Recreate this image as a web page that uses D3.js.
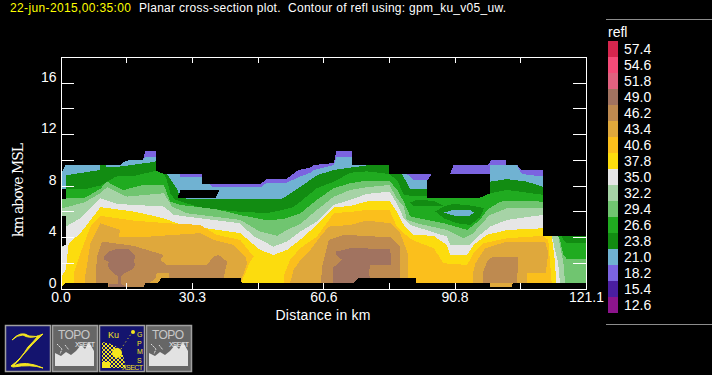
<!DOCTYPE html>
<html>
<head>
<meta charset="utf-8">
<script src="https://cdn.jsdelivr.net/npm/d3@7"></script>
<style>
  html, body { margin: 0; padding: 0; background: #000; overflow: hidden; }
  text { font-family: "Liberation Sans", Arial, sans-serif; fill: #fff; }
</style>
</head>
<body>
<div class="root"></div>
<script>
const levels = [57.4, 54.6, 51.8, 49.0, 46.2, 43.4, 40.6, 37.8, 35.0, 32.2, 29.4, 26.6, 23.8, 21.0, 18.2, 15.4, 12.6]
const levelColors = ['#d6264e', '#f54b78', '#e0627f', '#a17360', '#be8a50', '#dfa83c', '#fbbf1c', '#fcdc0e', '#e6e6e6', '#a6d3a6', '#70c570', '#20ab20', '#128c12', '#70b2d2', '#7b64e0', '#4a1ea0', '#8c148c']
const xTicks = [0, 15.14, 30.3, 45.4, 60.6, 75.7, 90.8, 106, 121.1]
const xLabels = ['0.0', '', '30.3', '', '60.6', '', '90.8', '', '121.1']
const yTicks = [0, 2, 4, 6, 8, 10, 12, 14, 16, 18]
const yLabels = ['0', '', '4', '', '8', '', '12', '', '16', '']

// contour tops, [distance km, height km]
const top182 = [[0.2,8.95],[1.2,9.6],[13.8,9.6],[15,9.94],[19,10],[19.6,10.69],[22.1,10.69],[22.1,8.91],[32.5,8.91],[32.5,8.11],[46,8.11],[47.5,8.5],[52,8.5],[54.8,9.2],[57.6,9.4],[58.4,9.6],[63,9.75],[63.6,10.69],[67.2,10.69],[67.2,9.6],[75.8,9.6],[75.8,8.91],[85.6,8.91],[89.8,8.91],[90.6,9.6],[98.5,9.6],[99.3,10],[102.6,10],[102.6,9.6],[105.2,9.6],[106.3,9.22],[111.2,9.22],[111.2,4.1],[121.1,4.1]]
const top210 = [[0.2,8.95],[1.2,9.6],[13.8,9.6],[15,9.94],[19,10],[19.6,10.25],[22.1,10.25],[22.1,8.91],[27.6,8.91],[27.6,8.7],[32.5,8.7],[32.5,8.11],[34.5,8.11],[35,7.85],[46,7.85],[47.5,8.2],[52,8.2],[55.2,8.7],[57.6,9],[58.4,9.2],[63,9.6],[63.6,10.25],[67.2,10.25],[67.2,9.6],[75.8,9.6],[75.8,8.91],[79.8,8.91],[81.4,8.4],[89,8.4],[99,8.91],[99,9.6],[105.2,9.6],[106.3,8.9],[111.2,8.7],[111.2,4.1],[121.1,4.1]]
const top238 = [[1.2,8.8],[9,9.2],[9.2,9.6],[10.4,9.6],[10.4,9.48],[13.8,9.48],[20.7,9.8],[22.1,9.9],[22.1,8.91],[24.5,8.91],[27,7.66],[27.5,7],[36.8,6.96],[51,6.96],[53.3,7.45],[55.3,7.9],[59.1,8.8],[63,9.22],[67,9.4],[71.3,9.6],[75.8,9.6],[75.8,8.91],[78.7,8.91],[80.6,7.7],[86,7.7],[98.9,7.7],[98.9,8.3],[102.9,8.5],[107.5,8.3],[111.2,7.9],[111.2,4.1],[121.1,4.1]]
const top266 = [[0.2,7.7],[5.4,7.7],[9.2,8],[12.8,8.7],[16.9,8.75],[22.1,9.15],[23.8,8.9],[24.5,8.44],[25.3,7.4],[26.4,6.9],[32.2,6.3],[39.9,6],[47.6,5.85],[51,6.1],[53.5,6.3],[55.3,6.75],[59.1,7.8],[63,8.3],[66.8,9],[70.6,9.1],[75.8,8.9],[77.6,8.4],[79.1,7.3],[80.6,7.2],[85,7.2],[98.9,7.4],[102.9,7.66],[111.2,7.28],[115.9,3.78],[116.7,3.52],[121.1,3.52]]
const top294 = [[0.2,7],[5.4,7],[9.2,7.75],[10.7,8.3],[14.5,7.65],[19,8.05],[23.8,8.05],[25.3,6.75],[27.6,6.5],[36,6.15],[41.5,5.7],[47.6,5.3],[51.4,5.4],[55.3,5.85],[59.1,6.9],[63,7.8],[66.8,8.18],[70.6,8.38],[75.8,8.38],[77.6,7.66],[79.1,6.75],[80.6,5.6],[88.3,5.07],[93.7,4.55],[96.7,5.33],[98.3,6.11],[101.3,6.75],[105.2,6.83],[111.2,6.75],[115.1,3.78],[115.9,2.62],[116.7,2.29],[121.1,2.29]]
const top322 = [[0.4,6.24],[5.4,6.68],[9.2,7.4],[10.7,7.87],[15.3,7.14],[23.8,7.4],[25.7,6.37],[29.1,5.85],[41.4,5.33],[46,4.42],[49.9,4.09],[52.2,4.55],[55.2,5],[59.1,6.11],[63,7.14],[66.8,7.66],[70.6,7.87],[75.8,8.05],[77.5,7],[79.1,6.37],[79.8,5.33],[82.1,5.07],[89,4.55],[92.9,3.91],[95.2,4.3],[96.7,4.94],[99,5.72],[102.9,6.24],[111.2,6.24],[114.7,4.09],[115.9,1.96],[116.3,0.41]]
const top350 = [[0.2,3.2],[1.2,3.4],[1.2,4.81],[4.6,5.46],[9.2,7.01],[13,6.57],[23.8,6.37],[26.1,5.72],[32.2,5.46],[41.4,5.07],[44.5,4.04],[49.1,3.26],[52.2,3.65],[55.2,4.42],[59.1,5.2],[63,6.5],[66.8,6.89],[70.6,7.35],[75.8,7.53],[77.5,6.63],[79.1,5.46],[80.6,4.94],[89,4.04],[89.8,3.39],[94.4,3.39],[96.7,4.17],[99,4.81],[102.9,5.33],[111.2,5.72],[113.2,4.09],[114.7,1.96],[115.1,0.41]]
const top378 = [[0.2,0.93],[1.2,1.45],[1.9,3.52],[4.6,4.3],[9.2,6.32],[16.9,5.98],[23.8,5.46],[26.8,5.07],[33.7,4.68],[41.4,4.3],[46,3],[49.1,2.61],[52.2,3],[55.2,3.78],[59.1,4.94],[63,6.29],[66.8,6.42],[70.6,6.76],[75.8,6.81],[77.5,5.98],[79.1,4.94],[81.4,4.17],[86,4.09],[89,3.39],[89.8,2.61],[93.7,2.61],[95.2,3.39],[98.3,4.17],[102.9,4.55],[111.2,4.68],[113.2,4.09],[114,1.96],[114.2,0.41]]

const amberWest = [[3.1,0],[3.1,1.19],[4.6,2.74],[6.9,4.81],[9.2,5.64],[16.9,5.28],[24.5,5.07],[32.2,4.94],[36,4.17],[41.4,3.78],[44.5,2.48],[43.7,2.09],[41.6,0.41],[41.6,0]]
const amberEast = [[51.4,0],[51.4,0.93],[52.9,2.22],[55.2,3.13],[59.1,4.04],[63,5.85],[67.6,5.98],[70.6,6.11],[75.8,6.11],[77.5,4.81],[79.1,4.3],[81,3.78],[86,3.13],[88.3,1.96],[93.7,1.83],[95.2,2.74],[97.5,3.52],[102.9,3.91],[111.2,4.09],[112.4,3.78],[113.2,0.41],[113.2,0]]
const orangeWest = [[5.4,0],[5.8,1.19],[6.9,3.52],[9.2,5.07],[11.5,4.81],[13.8,4.55],[13.4,4.04],[20.7,4.04],[32.2,4.3],[35.3,3.78],[39.9,3.39],[42.6,2.48],[43,1.96],[41.8,0.8],[41.4,0]]
const orangeMid = [[52.9,0],[52.9,0.41],[53.7,1.45],[55.2,2.17],[57.6,3],[59.9,4.04],[61.8,4.81],[66.8,4.94],[70.6,5.28],[76,5.07],[78.3,4.3],[80,2.74],[80,0]]
const orangeEast = [[95,0],[95,1.06],[95.6,1.96],[97.9,3.13],[102.9,3.65],[111.7,3.65],[112.4,2.74],[112,1.7],[111.9,1.24],[107.6,1.19],[107.6,0]]
const orangeFoot = [[99,0.41],[104,0.41],[104,0.08],[99,0.08]]
const tanWest = [[8.1,0],[8.1,0.67],[8.4,2.48],[9.6,3.65],[16.9,3.31],[23.8,2.61],[23,2.22],[24.5,1.83],[33.7,1.83],[35.3,2.48],[36.4,2.61],[38.4,2.09],[37.6,0.8],[24.9,0.8],[24.9,1.24],[22.2,1.19],[21.9,0.8],[19.2,0.1],[19.2,0]]
const tanMid = [[59.9,0],[60.3,1.7],[61.8,3.78],[65.3,4.17],[76,3.98],[78.2,3.26],[78.2,0]]
const tanEast = [[97.3,0],[97.3,1.19],[98.3,2.09],[99.4,2.43],[105.5,2.43],[105.2,0.41],[99,0.41]]
const brownWest = [[10,2.48],[11.1,2.87],[12.7,3.05],[15.7,3.05],[17.3,2.53],[16.9,2.09],[17.3,1.83],[16.5,1.45],[14.6,1.19],[14,0.93],[14,0.36],[15.2,0.15],[11.1,0.15],[11.1,0.36],[13.2,0.36],[13.2,0.93],[11.9,1.32],[10.9,1.7],[11.1,2.09],[10.1,2.22]]
const brownMid = [[62.7,0.41],[62.7,1.58],[64.9,2.22],[63.5,2.61],[63.5,2.87],[66.8,3.13],[76,3.08],[76.2,1.83],[71.4,1.83],[71,1.19],[71.4,0.75],[67.6,0.41]]

const darkIslandA = [[80.6,6.68],[82.1,6.89],[86,6.81],[88.4,6.42],[81.4,6.42]]
const darkIslandB = [[86.4,5.98],[88.3,6.37],[90.6,6.58],[95.2,6.42],[97.6,6.24],[96.7,5.54],[94.4,4.94],[91.4,5.07],[88.3,5.46]]
const blueIsland = [[88.3,5.9],[90.6,6.11],[94.4,6.11],[95.3,5.9],[94.4,5.67],[90.6,5.67]]

// places with no data
const holeWest = [[26.9,7],[27.7,7.67],[36.7,7.67],[35.7,7]]
const holeEast = [[84.5,8.4],[84.5,7],[96.3,7],[99,7.4],[99,8.91],[85.6,8.91]]
const holeRight = [[111.2,4.1],[111.2,11],[121.1,11],[121.1,4.1]]
const notchUpper = [[0,6.96],[0,7.7],[1.2,7.7],[1.2,6.96]]
const notchLower = [[0,3.2],[0,5.6],[1.2,5.6],[1.2,3.4]]
const groundLine = [[0,0],[1.2,0.41],[11,0.41],[11,0.1],[19.2,0.1],[19.5,0.41],[22.4,0.41],[23.2,0.8],[41.5,0.8],[41.8,0.41],[67.6,0.41],[68.7,0.8],[82,0.8],[82,0.41],[99,0.41],[99,0.08],[104,0.08],[104.2,0.41],[121.1,0.41],[121.1,0]]

const fromGround = top => [[top[0][0], 0], ...top, [top[top.length - 1][0], 0]]
const color = d3.scaleOrdinal().domain(levels).range(levelColors)

const layers = [
  [18.2, fromGround(top182)], [21.0, fromGround(top210)], [23.8, fromGround(top238)], [26.6, fromGround(top266)],
  [23.8, darkIslandA], [23.8, darkIslandB], [21.0, blueIsland],
  [29.4, fromGround(top294)], [32.2, fromGround(top322)], [35.0, fromGround(top350)], [37.8, fromGround(top378)],
  [40.6, amberWest], [40.6, amberEast],
  [43.4, orangeWest], [43.4, orangeMid], [43.4, orangeEast],
  [46.2, tanWest], [46.2, tanMid], [46.2, tanEast], [43.4, orangeFoot],
  [49.0, brownWest], [49.0, brownMid]
]
const blanks = [holeWest, holeEast, holeRight, notchUpper, notchLower, groundLine]

const margin = { top: 56.5, left: 60.5 }
const plotWidth = 525.5
    , plotHeight = 232

const svg = d3.select('.root').append('svg')
              .attr('width', 712)
              .attr('height', 375)
              .style('display', 'block')

const scaleX = d3.scaleLinear().domain([0, 121.1]).range([0, plotWidth])
const scaleY = d3.scaleLinear().domain([0, 18.03]).range([plotHeight, 0])

const canvas = svg.append('g')
                  .attr('transform', `translate(${margin.left}, ${margin.top})`)

const ring = d3.line().x(d => scaleX(d[0])).y(d => scaleY(d[1]))

canvas.append('g').selectAll('path')
      .data(layers)
      .enter()
      .append('path')
      .attr('d', d => ring(d[1]) + 'Z')
      .attr('fill', d => color(d[0]))
      .attr('shape-rendering', 'crispEdges')

canvas.append('g').selectAll('path')
      .data(blanks)
      .enter()
      .append('path')
      .attr('d', d => ring(d) + 'Z')
      .attr('fill', '#000')
      .attr('shape-rendering', 'crispEdges')

const styleAxis = g => {
  g.selectAll('path, line').attr('stroke', '#fff').attr('stroke-width', 1).attr('shape-rendering', 'crispEdges')
  g.selectAll('text').attr('fill', '#fff').style('font-size', '14px')
}

const labelOf = (ticks, labels) => d => labels[ticks.indexOf(d)]

canvas.append('g')
      .attr('transform', `translate(0, ${plotHeight})`)
      .call(d3.axisBottom(scaleX).tickValues(xTicks).tickFormat(labelOf(xTicks, xLabels)).tickSizeInner(-6).tickSizeOuter(0).tickPadding(3))
      .call(styleAxis)
      .call(g => g.selectAll('text').attr('dy', '0.72em'))

canvas.append('g')
      .call(d3.axisTop(scaleX).tickValues(xTicks).tickFormat('').tickSizeInner(-6).tickSizeOuter(0))
      .call(styleAxis)

canvas.append('g')
      .call(d3.axisLeft(scaleY).tickValues(yTicks).tickFormat(labelOf(yTicks, yLabels)).tickSizeInner(-13).tickSizeOuter(0).tickPadding(4))
      .call(styleAxis)
      .call(g => g.selectAll('text').attr('dy', '-0.1em'))

canvas.append('g')
      .attr('transform', `translate(${plotWidth}, 0)`)
      .call(d3.axisRight(scaleY).tickValues(yTicks).tickFormat('').tickSizeInner(-13).tickSizeOuter(0))
      .call(styleAxis)

svg.append('text').attr('x', 10).attr('y', 12).attr('textLength', 121).attr('font-size', 12)
   .style('fill', '#ffff00').text('22-jun-2015,00:35:00')
svg.append('text').attr('x', 139).attr('y', 12).attr('textLength', 367).attr('xml:space', 'preserve').attr('font-size', 12)
   .text('Planar cross-section plot.  Contour of refl using: gpm_ku_v05_uw.')

svg.append('text').attr('x', 323).attr('y', 320).attr('text-anchor', 'middle').attr('font-size', 14)
   .attr('textLength', 95).text('Distance in km')

svg.append('text').attr('transform', 'translate(23, 190) rotate(-90)').attr('text-anchor', 'middle')
   .attr('font-size', 14).attr('textLength', 94).style('font-family', '"DejaVu Serif", serif').text('km above MSL')

// colour key
const keyY = d3.scaleBand().domain(levels).range([41, 313])

svg.append('g').selectAll('line')
   .data([19.5, 324.5])
   .enter()
   .append('line')
   .attr('x1', 606).attr('x2', 712).attr('y1', d => d).attr('y2', d => d)
   .attr('stroke', '#8c8c8c')

svg.append('text').attr('x', 608).attr('y', 37).attr('font-size', 14).text('refl')

svg.append('g').selectAll('rect')
   .data(levels)
   .enter()
   .append('rect')
   .attr('x', 608).attr('width', 10)
   .attr('y', d => keyY(d)).attr('height', keyY.bandwidth())
   .attr('fill', d => color(d))

svg.append('g').selectAll('text')
   .data(levels)
   .enter()
   .append('text')
   .attr('x', 624).attr('y', d => keyY(d) + 13).attr('font-size', 14)
   .text(d => d.toFixed(1))

// buttons under the plot
const defs = svg.append('defs')
defs.append('pattern').attr('id', 'dither').attr('width', 4).attr('height', 4).attr('patternUnits', 'userSpaceOnUse')
    .call(p => {
      p.append('rect').attr('width', 2).attr('height', 2).attr('fill', '#f5e61e')
      p.append('rect').attr('x', 2).attr('y', 2).attr('width', 2).attr('height', 2).attr('fill', '#f5e61e')
    })

const buttons = svg.append('g')
const button = (x, fill) => {
  const g = buttons.append('g').attr('transform', `translate(${x}, 325)`)
  g.append('rect').attr('x', 0.5).attr('y', 0.5).attr('width', 45).attr('height', 46)
   .attr('fill', fill).attr('stroke', '#a0a0a0').attr('stroke-width', 1.5)
  return g
}
const topo = g => {
  g.append('path').attr('d', 'M3 41V28L9 31L14 27L19 30L24 26L29 20L33 24L37 17L42 26V41Z').attr('fill', '#e2e2e2')
  g.append('text').attr('x', 6).attr('y', 14).attr('font-size', 12).attr('textLength', 32).style('fill', '#c8c8c8').text('TOPO')
  g.append('text').attr('x', 23).attr('y', 22).attr('font-size', 7).attr('textLength', 20).style('fill', '#f0f0f0').text('XSECT')
  g.append('path').attr('d', 'M5 19L10 24L8 29M13 20L17 25').attr('fill', 'none').attr('stroke', '#e2e2e2').attr('stroke-dasharray', '2 1')
}

button(5, '#14146e').append('path')
  .attr('d', 'M7 15Q16 5 24 11Q32 13 38 9Q28 18 18 30Q12 38 8 41Q20 35 38 43Q26 39 8 42L6 41Q16 34 23 22Q29 16 33 11Q24 14 18 10Q12 10 7 15Z')
  .attr('fill', '#f5e61e').attr('stroke', '#f5e61e')

topo(button(52, '#666'))

const ku = button(99, '#14146e')
ku.append('path').attr('d', 'M3 43V17Q18 18 24 30L27 43Z').attr('fill', 'url(#dither)')
ku.append('path').attr('d', 'M3 43V37H11V43Z').attr('fill', '#f5e61e')
ku.append('circle').attr('cx', 18).attr('cy', 28).attr('r', 5).attr('fill', '#f5e61e')
ku.append('path').attr('d', 'M22 24L34 6').attr('stroke', '#f5e61e').attr('stroke-dasharray', '1 3')
ku.append('circle').attr('cx', 34).attr('cy', 7).attr('r', 2).attr('fill', '#f5e61e')
ku.append('text').attr('x', 9).attr('y', 13).attr('font-size', 9).style('fill', '#f5e61e').text('Ku')
ku.append('text').attr('x', 23).attr('y', 45).attr('font-size', 7).attr('textLength', 21).style('fill', '#f5e61e').text('XSECT')
;['G', 'P', 'M', 'S'].forEach((c, i) => {
  ku.append('text').attr('x', 38).attr('y', 12 + i * 8.5).attr('font-size', 7).style('fill', '#f5e61e').text(c)
})

topo(button(146, '#666'))
</script>
</body>
</html>
